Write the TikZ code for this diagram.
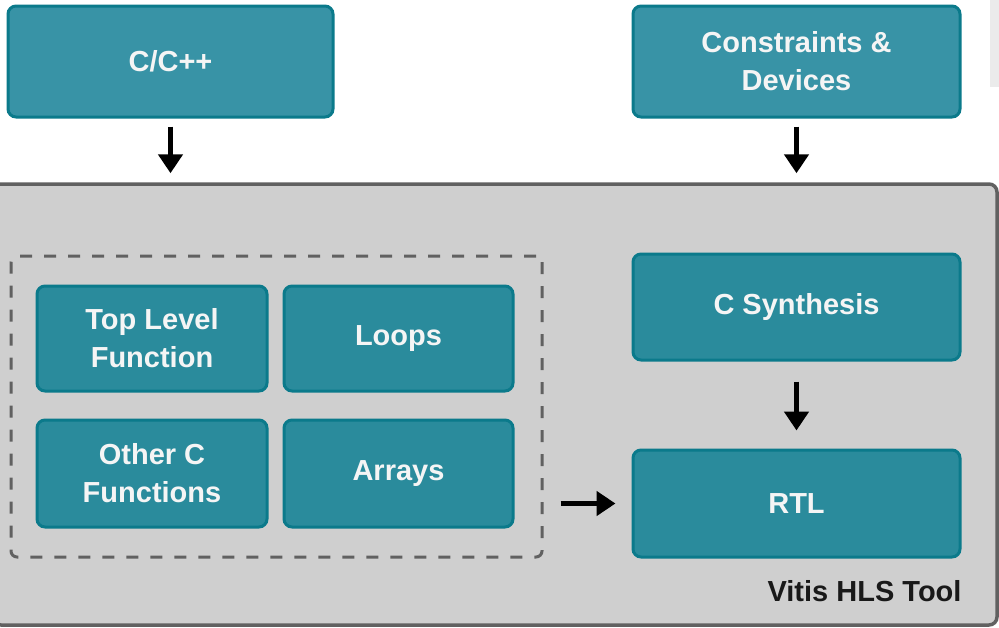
\documentclass[tikz,border=0pt]{standalone}
\usepackage{fontspec}
\setmainfont{Liberation Sans}
\usetikzlibrary{arrows.meta}
\definecolor{tealtop}{HTML}{3893A6}
\definecolor{tealin}{HTML}{2A8B9C}
\definecolor{tealedge}{HTML}{0B7A8B}
\definecolor{panel}{HTML}{CFCFCF}
\definecolor{paneledge}{HTML}{616161}
\definecolor{labeltext}{HTML}{F5F5F5}
\tikzset{
  x=1pt, y=-1pt,
  boxbase/.style={draw=tealedge, line width=3pt, rounded corners=8pt,
    text=labeltext, font=\fontsize{29}{38}\selectfont\bfseries, align=center,
    inner sep=0pt},
  inputbox/.style={boxbase, fill=tealtop},
  stagebox/.style={boxbase, fill=tealin},
  flow/.style={line width=5.5pt, black, -{Triangle[width=24pt,length=19pt]}},
}
\begin{document}
\begin{tikzpicture}
\useasboundingbox (0,0) rectangle (999,627);
% faint sheet at the top right
\fill[black!8] (990,0) rectangle (999,87);

% tool panel
\node[draw=paneledge, fill=panel, line width=3.5pt, rounded corners=8pt,
      minimum width=1004pt, minimum height=441pt, inner sep=0pt]
      (tool) at (495,404.5) {};
\node[anchor=base east, font=\fontsize{29}{34}\selectfont\bfseries, text=black!90]
      (toolname) at (965,601) {Vitis HLS Tool};

% inputs
\node[inputbox, minimum width=325pt, minimum height=111pt] (cpp) at (170.5,61.5) {C/C++};
\node[inputbox, minimum width=327pt, minimum height=111pt] (cons) at (796.5,61.5) {Constraints \&\\Devices};

% source group
\node[draw=paneledge, dash pattern=on 12pt off 12pt, line width=3pt, rounded corners=6pt,
      minimum width=531pt, minimum height=301pt, inner sep=0pt] (grp) at (276.5,406.5) {};
\node[stagebox, minimum width=230pt, minimum height=105pt] (top) at (152,338.5) {Top Level\\Function};
\node[stagebox, minimum width=229pt, minimum height=105pt] (loops) at (398.5,338.5) {Loops};
\node[stagebox, minimum width=230pt, minimum height=107pt] (other) at (152,473.5) {Other C\\Functions};
\node[stagebox, minimum width=229pt, minimum height=107pt] (arrays) at (398.5,473.5) {Arrays};

% synthesis and output
\node[stagebox, minimum width=327pt, minimum height=106pt] (synth) at (796.5,307) {C Synthesis};
\node[stagebox, minimum width=327pt, minimum height=107pt] (rtl) at (796.5,503.5) {RTL};

% connectors
\draw[flow, shorten <=8pt, shorten >=9pt] (cpp.south) -- (cpp.south |- tool.north);
\draw[flow, shorten <=8pt, shorten >=9pt] (cons.south) -- (cons.south |- tool.north);
\draw[flow, shorten <=20pt, shorten >=18pt] (synth.south) -- (rtl.north);
\draw[flow, shorten <=17pt, shorten >=16pt] (grp.east |- rtl.west) -- (rtl.west);
\end{tikzpicture}
\end{document}
